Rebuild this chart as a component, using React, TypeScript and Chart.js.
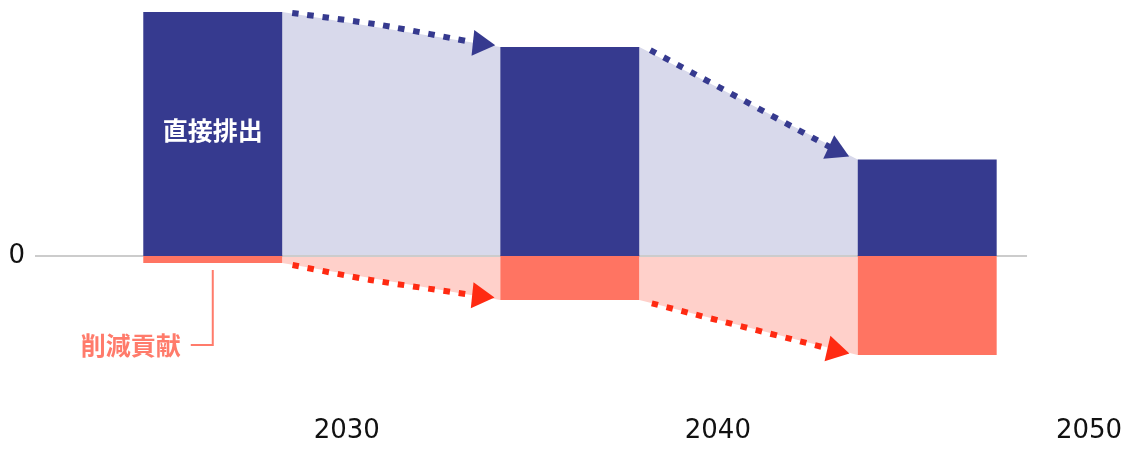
import React, { useEffect, useRef } from "react";
import { Chart, registerables } from "chart.js";

Chart.register(...registerables);

// ---- data ----
const barYears = [2026.39, 2036.01, 2045.64];
const directEmissions = [100, 85.7, 39.6];
const reductionContribution = [-2.9, -18.0, -40.6];
const xTickYears = [2030, 2040, 2050];
const yTickValues = [0];
const BAR_SPAN_YEARS = 3.745;
const X_MIN = 2021.6;
const X_MAX = 2050;
const Y_MIN = -59;
const Y_MAX = 100;
const ZERO_LINE_END = 2048.33;

const emissionArrowA = [
  { x: 2028.53, y: 99.6 },
  { x: 2030.9, y: 94.7 },
  { x: 2033.6, y: 87.0 },
];
const emissionArrowB = [
  { x: 2038.18, y: 84.4 },
  { x: 2043.17, y: 43.4 },
];
const reductionArrowA = [
  { x: 2028.54, y: -3.7 },
  { x: 2030.63, y: -9.8 },
  { x: 2033.58, y: -16.4 },
];
const reductionArrowB = [
  { x: 2038.22, y: -19.4 },
  { x: 2043.15, y: -38.6 },
];
const arrowHeadAngles = [6, 25, 6, 13];

const directLabel = "直接排出";
const reductionLabel = "削減貢献";

// ---- styles ----
const NAVY = "#363A8F";
const SALMON = "#FF7462";
const LAVENDER = "#D8D9EB";
const PINK = "#FFD0CA";
const RED_DOT = "#FF2A12";
const LABEL_SALMON = "#FF7B6B";
const ZERO_GRAY = "#CCCCCC";
const TEXT = "#111111";

function gapPolygon(values: number[], i: number) {
  return [
    { x: barYears[i] + BAR_SPAN_YEARS / 2, y: values[i] },
    { x: barYears[i + 1] - BAR_SPAN_YEARS / 2, y: values[i + 1] },
  ];
}

function fillDataset(data: any[], color: string) {
  return {
    type: "line" as const,
    data,
    fill: "origin",
    backgroundColor: color,
    borderColor: "rgba(0,0,0,0)",
    borderWidth: 0,
    pointRadius: 0,
    tension: 0,
    order: 4,
  };
}

function arrowDataset(data: any[], color: string, angle: number) {
  const last = data.length - 1;
  return {
    type: "line" as const,
    data,
    fill: false,
    borderColor: color,
    borderWidth: 6,
    borderDash: [6.5, 8.8],
    borderCapStyle: "butt",
    tension: 0.2,
    pointStyle: "triangle",
    pointRadius: (c: any) => (c.dataIndex === last ? 15 : 0),
    pointRotation: (c: any) => (c.dataIndex === last ? 90 + angle : 0),
    pointBackgroundColor: color,
    pointBorderColor: color,
    pointBorderWidth: 0,
    clip: false,
    order: 1,
  };
}

const labelPlugin = {
  id: "annotLabels",
  afterDatasetsDraw(chart: any) {
    const { ctx } = chart;
    const x = chart.scales.x;
    const y = chart.scales.y;
    const cx = x.getPixelForValue(barYears[0]);
    ctx.save();
    ctx.font = 'bold 25px "Noto Sans CJK JP", sans-serif';
    ctx.textAlign = "center";
    ctx.textBaseline = "middle";
    ctx.fillStyle = "#ffffff";
    ctx.fillText(directLabel, cx, y.getPixelForValue(directEmissions[0] * 0.515));

    const negBottom = y.getPixelForValue(reductionContribution[0]);
    const ly = negBottom + 82;
    ctx.strokeStyle = LABEL_SALMON;
    ctx.lineWidth = 2;
    ctx.beginPath();
    ctx.moveTo(cx, negBottom + 7);
    ctx.lineTo(cx, ly);
    ctx.lineTo(cx - 22, ly);
    ctx.stroke();
    ctx.fillStyle = LABEL_SALMON;
    ctx.textAlign = "right";
    ctx.fillText(reductionLabel, cx - 32, ly);
    ctx.restore();
  },
};

export default function App() {
  const ref = useRef<HTMLCanvasElement | null>(null);

  useEffect(() => {
    if (!ref.current) return;
    const chart = new Chart(ref.current, {
      type: "bar",
      data: {
        datasets: [
          fillDataset(gapPolygon(directEmissions, 0), LAVENDER),
          fillDataset(gapPolygon(directEmissions, 1), LAVENDER),
          fillDataset(gapPolygon(reductionContribution, 0), PINK),
          fillDataset(gapPolygon(reductionContribution, 1), PINK),
          {
            type: "line",
            data: [
              { x: X_MIN, y: 0 },
              { x: ZERO_LINE_END, y: 0 },
            ],
            borderColor: ZERO_GRAY,
            borderWidth: 2,
            pointRadius: 0,
            fill: false,
            order: 3,
          } as any,
          {
            type: "bar",
            label: directLabel,
            data: barYears.map((yr, i) => ({ x: yr, y: directEmissions[i] })),
            backgroundColor: NAVY,
            borderWidth: 0,
            grouped: false,
            categoryPercentage: 1,
            barPercentage: BAR_SPAN_YEARS / (barYears[1] - barYears[0]),
            order: 2,
          } as any,
          {
            type: "bar",
            label: reductionLabel,
            data: barYears.map((yr, i) => ({ x: yr, y: reductionContribution[i] })),
            backgroundColor: SALMON,
            borderWidth: 0,
            grouped: false,
            categoryPercentage: 1,
            barPercentage: BAR_SPAN_YEARS / (barYears[1] - barYears[0]),
            order: 2,
          } as any,
          arrowDataset(emissionArrowA, NAVY, arrowHeadAngles[0]),
          arrowDataset(emissionArrowB, NAVY, arrowHeadAngles[1]),
          arrowDataset(reductionArrowA, RED_DOT, arrowHeadAngles[2]),
          arrowDataset(reductionArrowB, RED_DOT, arrowHeadAngles[3]),
        ] as any,
      },
      options: {
        responsive: false,
        animation: false,
        devicePixelRatio: 1,
        events: [],
        layout: { autoPadding: false, padding: { top: 12, right: 41, bottom: 4, left: 0 } },
        plugins: {
          legend: { display: false },
          tooltip: { enabled: false },
        },
        scales: {
          x: {
            type: "linear",
            min: X_MIN,
            max: X_MAX,
            offset: false,
            stacked: false,
            grid: { display: false, drawTicks: false },
            border: { display: false },
            afterBuildTicks: (s: any) => {
              s.ticks = xTickYears.map((v) => ({ value: v }));
            },
            afterFit: (s: any) => {
              s.height = 47;
              s.paddingLeft = 0;
              s.paddingRight = 0;
            },
            ticks: {
              autoSkip: false,
              maxRotation: 0,
              padding: 16,
              color: TEXT,
              font: { family: '"DejaVu Sans", sans-serif', size: 26 },
              callback: (v: any) => String(v),
            },
          },
          y: {
            type: "linear",
            min: Y_MIN,
            max: Y_MAX,
            stacked: false,
            grid: { display: false, drawTicks: false },
            border: { display: false },
            afterBuildTicks: (s: any) => {
              s.ticks = yTickValues.map((v) => ({ value: v }));
            },
            afterFit: (s: any) => {
              s.width = 35;
              s.paddingTop = 0;
              s.paddingBottom = 0;
            },
            ticks: {
              padding: 10,
              color: TEXT,
              font: { family: '"DejaVu Sans", sans-serif', size: 26 },
              callback: (v: any) => String(v),
            },
          },
        },
      } as any,
      plugins: [labelPlugin],
    });
    return () => chart.destroy();
  }, []);

  return (
    <div style={{ position: "fixed", left: 0, top: 0, width: 1130, height: 451, background: "#fff" }}>
      <canvas ref={ref} width={1130} height={451} style={{ display: "block" }} />
    </div>
  );
}
